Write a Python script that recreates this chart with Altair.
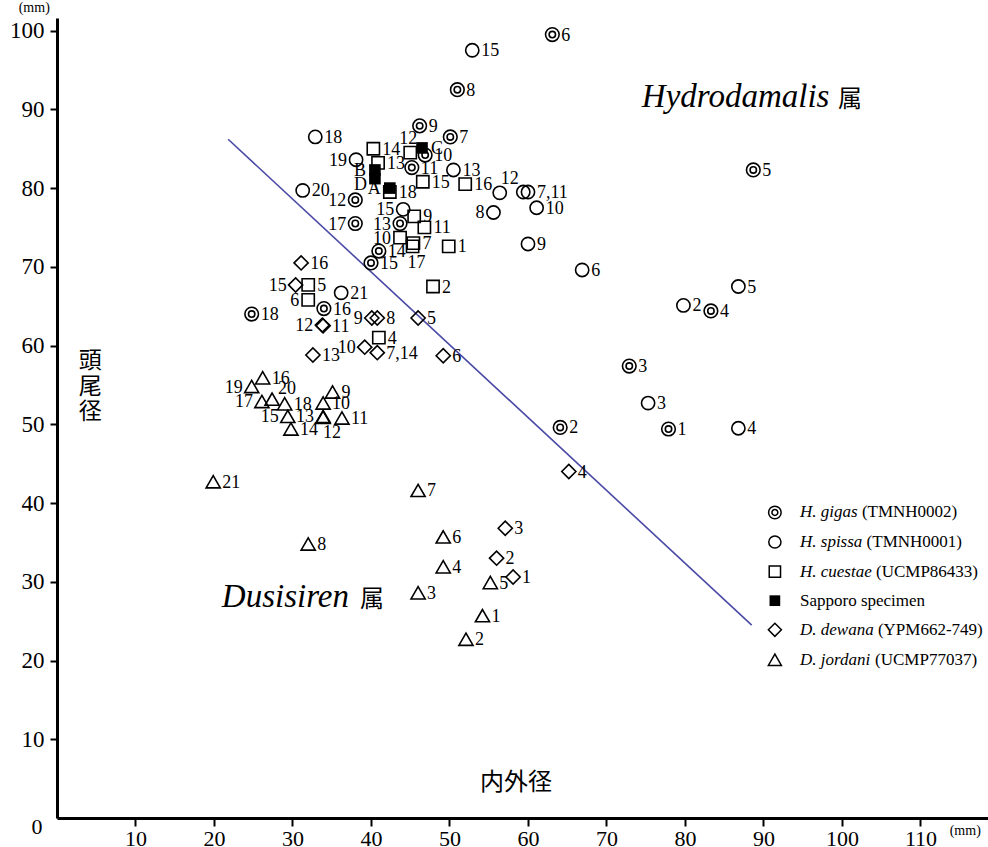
import altair as alt
import pandas as pd

# ---------------- data ----------------
species_order = ["gigas", "spissa", "cuestae", "sapporo", "dewana", "jordani"]

gigas_lab = ["1", "2", "3", "4", "5", "6", "7", "8", "9", "10", "11", "12", "13", "14", "15", "16", "17", "18"]
gigas_x = [77.9, 64.1, 72.9, 83.3, 88.7, 63.1, 50.1, 51.0, 46.2, 46.9, 45.2, 38.0, 43.7, 41.0, 40.0, 34.0, 38.0, 24.8]
gigas_y = [49.4, 49.6, 57.4, 64.4, 82.3, 99.5, 86.5, 92.5, 87.9, 84.2, 82.6, 78.5, 75.5, 72.0, 70.5, 64.7, 75.5, 64.0]

spissa_lab = ["2", "3", "4", "5", "6", "", "7,11", "8", "9", "10", "12", "13", "15", "15", "18", "19", "20", "21"]
spissa_x = [79.8, 75.3, 86.8, 86.8, 66.9, 59.4, 60.0, 55.6, 60.0, 61.1, 56.4, 50.5, 52.9, 44.1, 32.9, 38.1, 31.3, 36.2]
spissa_y = [65.1, 52.7, 49.5, 67.5, 69.6, 79.5, 79.5, 76.9, 72.9, 77.5, 79.4, 82.3, 97.5, 77.3, 86.5, 83.6, 79.7, 66.7]

cuestae_lab = ["1", "2", "4", "5", "6", "7", "9", "10", "11", "12", "13", "14", "15", "16", "17", "18"]
cuestae_x = [49.9, 47.9, 41.0, 32.0, 32.0, 45.4, 45.5, 43.7, 46.8, 45.0, 40.9, 40.3, 46.6, 52.0, 45.3, 42.4]
cuestae_y = [72.6, 67.5, 61.0, 67.7, 65.8, 73.0, 76.4, 73.7, 75.0, 84.5, 83.2, 85.0, 80.8, 80.5, 72.6, 79.5]

sapporo_lab = ["A", "B", "C", "D"]
sapporo_x = [42.4, 40.5, 46.5, 40.5]
sapporo_y = [80.0, 82.3, 85.1, 81.2]

dewana_lab = ["1", "2", "3", "4", "5", "6", "7,14", "8", "9", "10", "11", "12", "13", "15", "16"]
dewana_x = [58.1, 56.0, 57.1, 65.2, 46.0, 49.2, 40.8, 40.8, 40.1, 39.2, 33.9, 33.8, 32.6, 30.4, 31.1]
dewana_y = [30.6, 33.0, 36.8, 44.0, 63.5, 58.7, 59.1, 63.5, 63.5, 59.8, 62.5, 62.6, 58.8, 67.7, 70.5]

jordani_lab = ["1", "2", "3", "4", "5", "6", "7", "8", "9", "10", "11", "12", "13", "14", "15", "16", "17", "18", "19", "20", "21"]
jordani_x = [54.2, 52.1, 46.0, 49.2, 55.2, 49.2, 46.0, 32.0, 35.1, 33.9, 36.3, 33.9, 33.9, 29.8, 29.4, 26.2, 26.1, 29.0, 24.8, 27.4, 19.9]
jordani_y = [25.7, 22.7, 28.6, 31.9, 29.9, 35.7, 41.6, 34.8, 54.1, 52.7, 50.8, 50.9, 51.0, 49.4, 51.0, 55.9, 52.9, 52.6, 54.8, 53.2, 42.7]

# dividing line
line_x = [21.8, 88.5]
line_y = [86.2, 24.5]

# legend texts
legend_italic = ["H. gigas", "H. spissa", "H. cuestae", "", "D. dewana", "D. jordani"]
legend_plain = ["(TMNH0002)", "(TMNH0001)", "(UCMP86433)", "Sapporo specimen", "(YPM662-749)", "(UCMP77037)"]

# ---------------- label placement (index -> side) ----------------
SIDES = {
    "gigas": {11: "L", 12: "L", 16: "L"},
    "spissa": {7: "L", 10: "TR", 13: "L", 15: "L"},
    "cuestae": {4: "L", 7: "L", 9: "TC", 14: "BC"},
    "sapporo": {0: "L", 1: "L", 3: "BL"},
    "dewana": {8: "L", 9: "L", 11: "L", 13: "L"},
    "jordani": {11: "BR", 12: "L", 14: "L", 16: "L", 18: "L", 19: "RU"},
}
PLACE = {
    "R": dict(align="left", dx=9, dy=1),
    "L": dict(align="right", dx=-9, dy=1),
    "TR": dict(align="left", dx=1, dy=-14),
    "TC": dict(align="center", dx=-2, dy=-14),
    "BC": dict(align="center", dx=4, dy=17),
    "BR": dict(align="left", dx=0, dy=16),
    "BL": dict(align="right", dx=-8, dy=6),
    "RU": dict(align="left", dx=6, dy=-10),
}

series = {
    "gigas": (gigas_x, gigas_y, gigas_lab),
    "spissa": (spissa_x, spissa_y, spissa_lab),
    "cuestae": (cuestae_x, cuestae_y, cuestae_lab),
    "sapporo": (sapporo_x, sapporo_y, sapporo_lab),
    "dewana": (dewana_x, dewana_y, dewana_lab),
    "jordani": (jordani_x, jordani_y, jordani_lab),
}
rows = []
for sp, (xs_, ys_, labs) in series.items():
    for i, (xv, yv, lb) in enumerate(zip(xs_, ys_, labs)):
        rows.append(dict(species=sp, x=xv, y=yv, label=lb, side=SIDES[sp].get(i, "R")))
df = pd.DataFrame(rows)

DOUBLE = ("M-1,0A1,1,0,1,0,1,0A1,1,0,1,0,-1,0Z"
          "M-0.47,0A0.47,0.47,0,1,0,0.47,0A0.47,0.47,0,1,0,-0.47,0Z")
STYLE = {
    "gigas": dict(shape=DOUBLE, filled=False, size=185),
    "spissa": dict(shape="circle", filled=False, size=175),
    "cuestae": dict(shape="square", filled=False, size=150),
    "sapporo": dict(shape="square", filled=True, size=135),
    "dewana": dict(shape="diamond", filled=False, size=200),
    "jordani": dict(shape="triangle-up", filled=False, size=200),
}

# ---------------- scales & axes ----------------
XMAX, YMAX = 118.6, 101.6
xs = alt.Scale(domain=[0, XMAX], nice=False, zero=False)
ys = alt.Scale(domain=[0, YMAX], nice=False, zero=False)
SERIF = "Liberation Serif"
CJK = "Noto Sans CJK JP"
x_axis = alt.Axis(values=list(range(10, 120, 10)), title=None, grid=False,
                  domainColor="black", domainWidth=3, tickColor="black", tickWidth=2,
                  tickSize=8, labelFont=SERIF, labelFontSize=22, labelColor="black",
                  labelPadding=2, labelFlush=False, labelOverlap=False)
y_axis = alt.Axis(values=list(range(10, 101, 10)), title=None, grid=False,
                  domainColor="black", domainWidth=3, tickColor="black", tickWidth=2,
                  tickSize=7, labelFont=SERIF, labelFontSize=23, labelColor="black",
                  labelPadding=6, labelFlush=False, labelOverlap=False)


def X(f="x"):
    return alt.X(f"{f}:Q", scale=xs, axis=x_axis)


def Y(f="y"):
    return alt.Y(f"{f}:Q", scale=ys, axis=y_axis)


layers = []

# dividing line
line_df = pd.DataFrame({"x": line_x, "y": line_y})
layers.append(alt.Chart(line_df).mark_line(color="#4a4aa6", strokeWidth=1.6).encode(x=X(), y=Y()))

# points
for sp in species_order:
    st = STYLE[sp]
    layers.append(
        alt.Chart(df).transform_filter(alt.datum.species == sp)
        .mark_point(shape=st["shape"], filled=st["filled"], size=st["size"],
                    color="black", strokeWidth=1.6, opacity=1)
        .encode(x=X(), y=Y())
    )

# point labels
for side, p in PLACE.items():
    layers.append(
        alt.Chart(df).transform_filter(alt.datum.side == side)
        .mark_text(font=SERIF, fontSize=18, color="black", baseline="middle", **p)
        .encode(x=X(), y=Y(), text="label:N")
    )

# legend (manual, mixed italic/upright)
PX_PER_X = 931 / XMAX
leg_sym_x = 91.45
leg_txt_x = 94.65
leg_y = [38.8, 35.05, 31.3, 27.6, 23.9, 20.1]
italic_w_px = [61.9, 66.6, 76.0, 0.0, 77.9, 75.1]
leg_df = pd.DataFrame({
    "species": species_order,
    "x": [leg_sym_x] * 6,
    "y": leg_y,
    "tx": [leg_txt_x] * 6,
    "ux": [leg_txt_x + w / PX_PER_X for w in italic_w_px],
    "it": legend_italic,
    "up": legend_plain,
})
for sp in species_order:
    st = STYLE[sp]
    layers.append(
        alt.Chart(leg_df).transform_filter(alt.datum.species == sp)
        .mark_point(shape=st["shape"], filled=st["filled"], size=st["size"] * 0.85,
                    color="black", strokeWidth=1.5, opacity=1)
        .encode(x=X(), y=Y())
    )
layers.append(
    alt.Chart(leg_df).mark_text(font=SERIF, fontSize=17, fontStyle="italic", align="left",
                                baseline="middle", color="black")
    .encode(x=X("tx"), y=Y(), text="it:N")
)
layers.append(
    alt.Chart(leg_df).mark_text(font=SERIF, fontSize=17, align="left",
                                baseline="middle", color="black")
    .encode(x=X("ux"), y=Y(), text="up:N")
)

# annotations
def note(xv, yv, txt, **kw):
    d = pd.DataFrame({"x": [xv], "y": [yv], "t": [txt]})
    base = dict(color="black", align="left", baseline="alphabetic")
    base.update(kw)
    return alt.Chart(d).mark_text(**base).encode(x=X(), y=Y(), text="t:N")


layers += [
    note(74.5, 90.35, "Hydrodamalis", font=SERIF, fontSize=33, fontStyle="italic"),
    note(99.5, 90.35, "属", font=CJK, fontSize=24),
    note(21.0, 26.86, "Dusisiren", font=SERIF, fontSize=33, fontStyle="italic"),
    note(38.6, 26.86, "属", font=CJK, fontSize=24),
    note(4.25, 58.0, "頭", font=CJK, fontSize=23, align="center", baseline="middle"),
    note(4.25, 54.8, "尾", font=CJK, fontSize=23, align="center", baseline="middle"),
    note(4.25, 51.6, "径", font=CJK, fontSize=23, align="center", baseline="middle"),
    note(53.9, 4.5, "内外径", font=CJK, fontSize=24, baseline="middle"),
    note(-2.9, 102.9, "(mm)", font=SERIF, fontSize=14, align="center", baseline="middle"),
    note(115.7, -1.7, "(mm)", font=SERIF, fontSize=14, align="center", baseline="middle"),
    note(-2.55, -1.2, "0", font=SERIF, fontSize=22, align="center", baseline="middle"),
]

chart = (
    alt.layer(*layers)
    .properties(width=931, height=800,
                padding={"left": 57, "top": 18, "right": 0, "bottom": 29},
                autosize=alt.AutoSizeParams(type="none"),
                background="white")
    .configure_view(stroke=None)
)

chart.save("out.html", embed_options={"renderer": "svg", "actions": False})
